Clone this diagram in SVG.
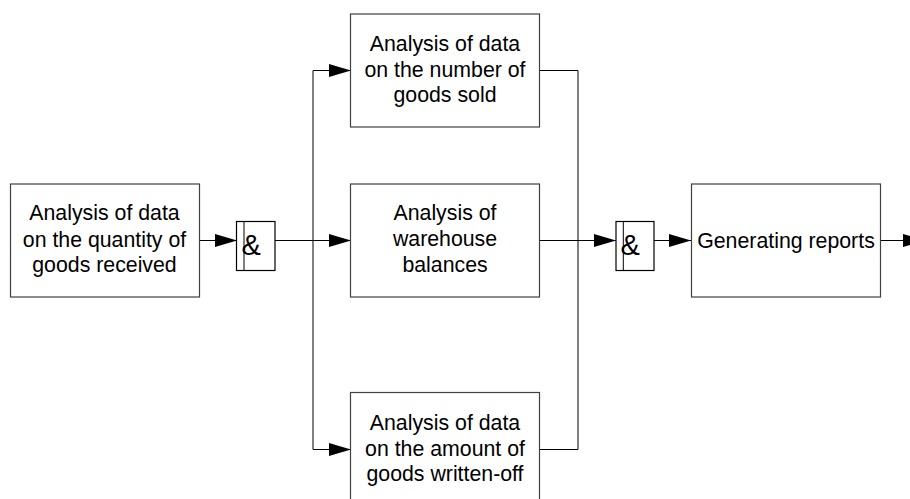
<svg xmlns="http://www.w3.org/2000/svg" width="910" height="499" viewBox="0 0 910 499">
<defs>
<marker id="arr" markerUnits="userSpaceOnUse" markerWidth="22" markerHeight="13" refX="22" refY="6.5" orient="auto" overflow="visible">
<path d="M0,0 L22,6.5 L0,13 Z" fill="#000"/>
</marker>
<style>
.box{fill:#fff;stroke:#404040;stroke-width:1.2}
.gate{fill:#fff;stroke:#000;stroke-width:1.2}
.t{font-family:"Liberation Sans",Arial,sans-serif;font-size:21.3px;fill:#000;text-anchor:middle}
.amp{font-family:"Liberation Sans",Arial,sans-serif;font-size:29px;fill:#000}
.c{fill:none;stroke:#000;stroke-width:1}
.a{marker-end:url(#arr)}
</style>
</defs>
<rect width="910" height="499" fill="#fff"/>
<g id="connectors">
<line class="c a" x1="199" y1="240.5" x2="237" y2="240.5"/>
<line class="c" x1="275" y1="240.5" x2="313" y2="240.5"/>
<line class="c" x1="313" y1="70.5" x2="313" y2="449.5"/>
<line class="c a" x1="313" y1="70.5" x2="351" y2="70.5"/>
<line class="c a" x1="313" y1="240.5" x2="351" y2="240.5"/>
<line class="c a" x1="313" y1="449.5" x2="351" y2="449.5"/>
<line class="c" x1="540" y1="70.5" x2="578" y2="70.5"/>
<line class="c" x1="540" y1="449.5" x2="578" y2="449.5"/>
<line class="c" x1="578" y1="70.5" x2="578" y2="449.5"/>
<line class="c a" x1="540" y1="240.5" x2="616" y2="240.5"/>
<line class="c a" x1="654" y1="240.5" x2="691" y2="240.5"/>
<line class="c a" x1="881" y1="240.5" x2="925" y2="240.5"/>
</g>
<g id="n_received">
<rect class="box" x="10.5" y="184" width="189" height="113"/>
<text class="t" x="104.5" y="220">Analysis of data</text>
<text class="t" x="104.5" y="246.5">on the quantity of</text>
<text class="t" x="104.5" y="272">goods received</text>
</g>
<g id="gate1">
<rect class="gate" x="236.5" y="221.5" width="38.5" height="49"/>
<line class="c" x1="244" y1="221.5" x2="244" y2="270.5"/>
<text class="amp" x="241.5" y="254.5">&amp;</text>
</g>
<g id="n_sold">
<rect class="box" x="350.5" y="14" width="189" height="113"/>
<text class="t" x="445" y="51">Analysis of data</text>
<text class="t" x="445" y="77">on the number of</text>
<text class="t" x="445" y="102">goods sold</text>
</g>
<g id="n_balances">
<rect class="box" x="350.5" y="184" width="189" height="113"/>
<text class="t" x="445" y="220">Analysis of</text>
<text class="t" x="445" y="246">warehouse</text>
<text class="t" x="445" y="272">balances</text>
</g>
<g id="n_writtenoff">
<rect class="box" x="350.5" y="392.5" width="189" height="113"/>
<text class="t" x="445" y="430">Analysis of data</text>
<text class="t" x="445" y="456">on the amount of</text>
<text class="t" x="445" y="481">goods written-off</text>
</g>
<g id="gate2">
<rect class="gate" x="616" y="221.5" width="38" height="49"/>
<line class="c" x1="623.3" y1="221.5" x2="623.3" y2="270.5"/>
<text class="amp" x="620.5" y="254.5">&amp;</text>
</g>
<g id="n_reports">
<rect class="box" x="691.5" y="184" width="189" height="113"/>
<text class="t" x="786" y="247.5">Generating reports</text>
</g>
</svg>
